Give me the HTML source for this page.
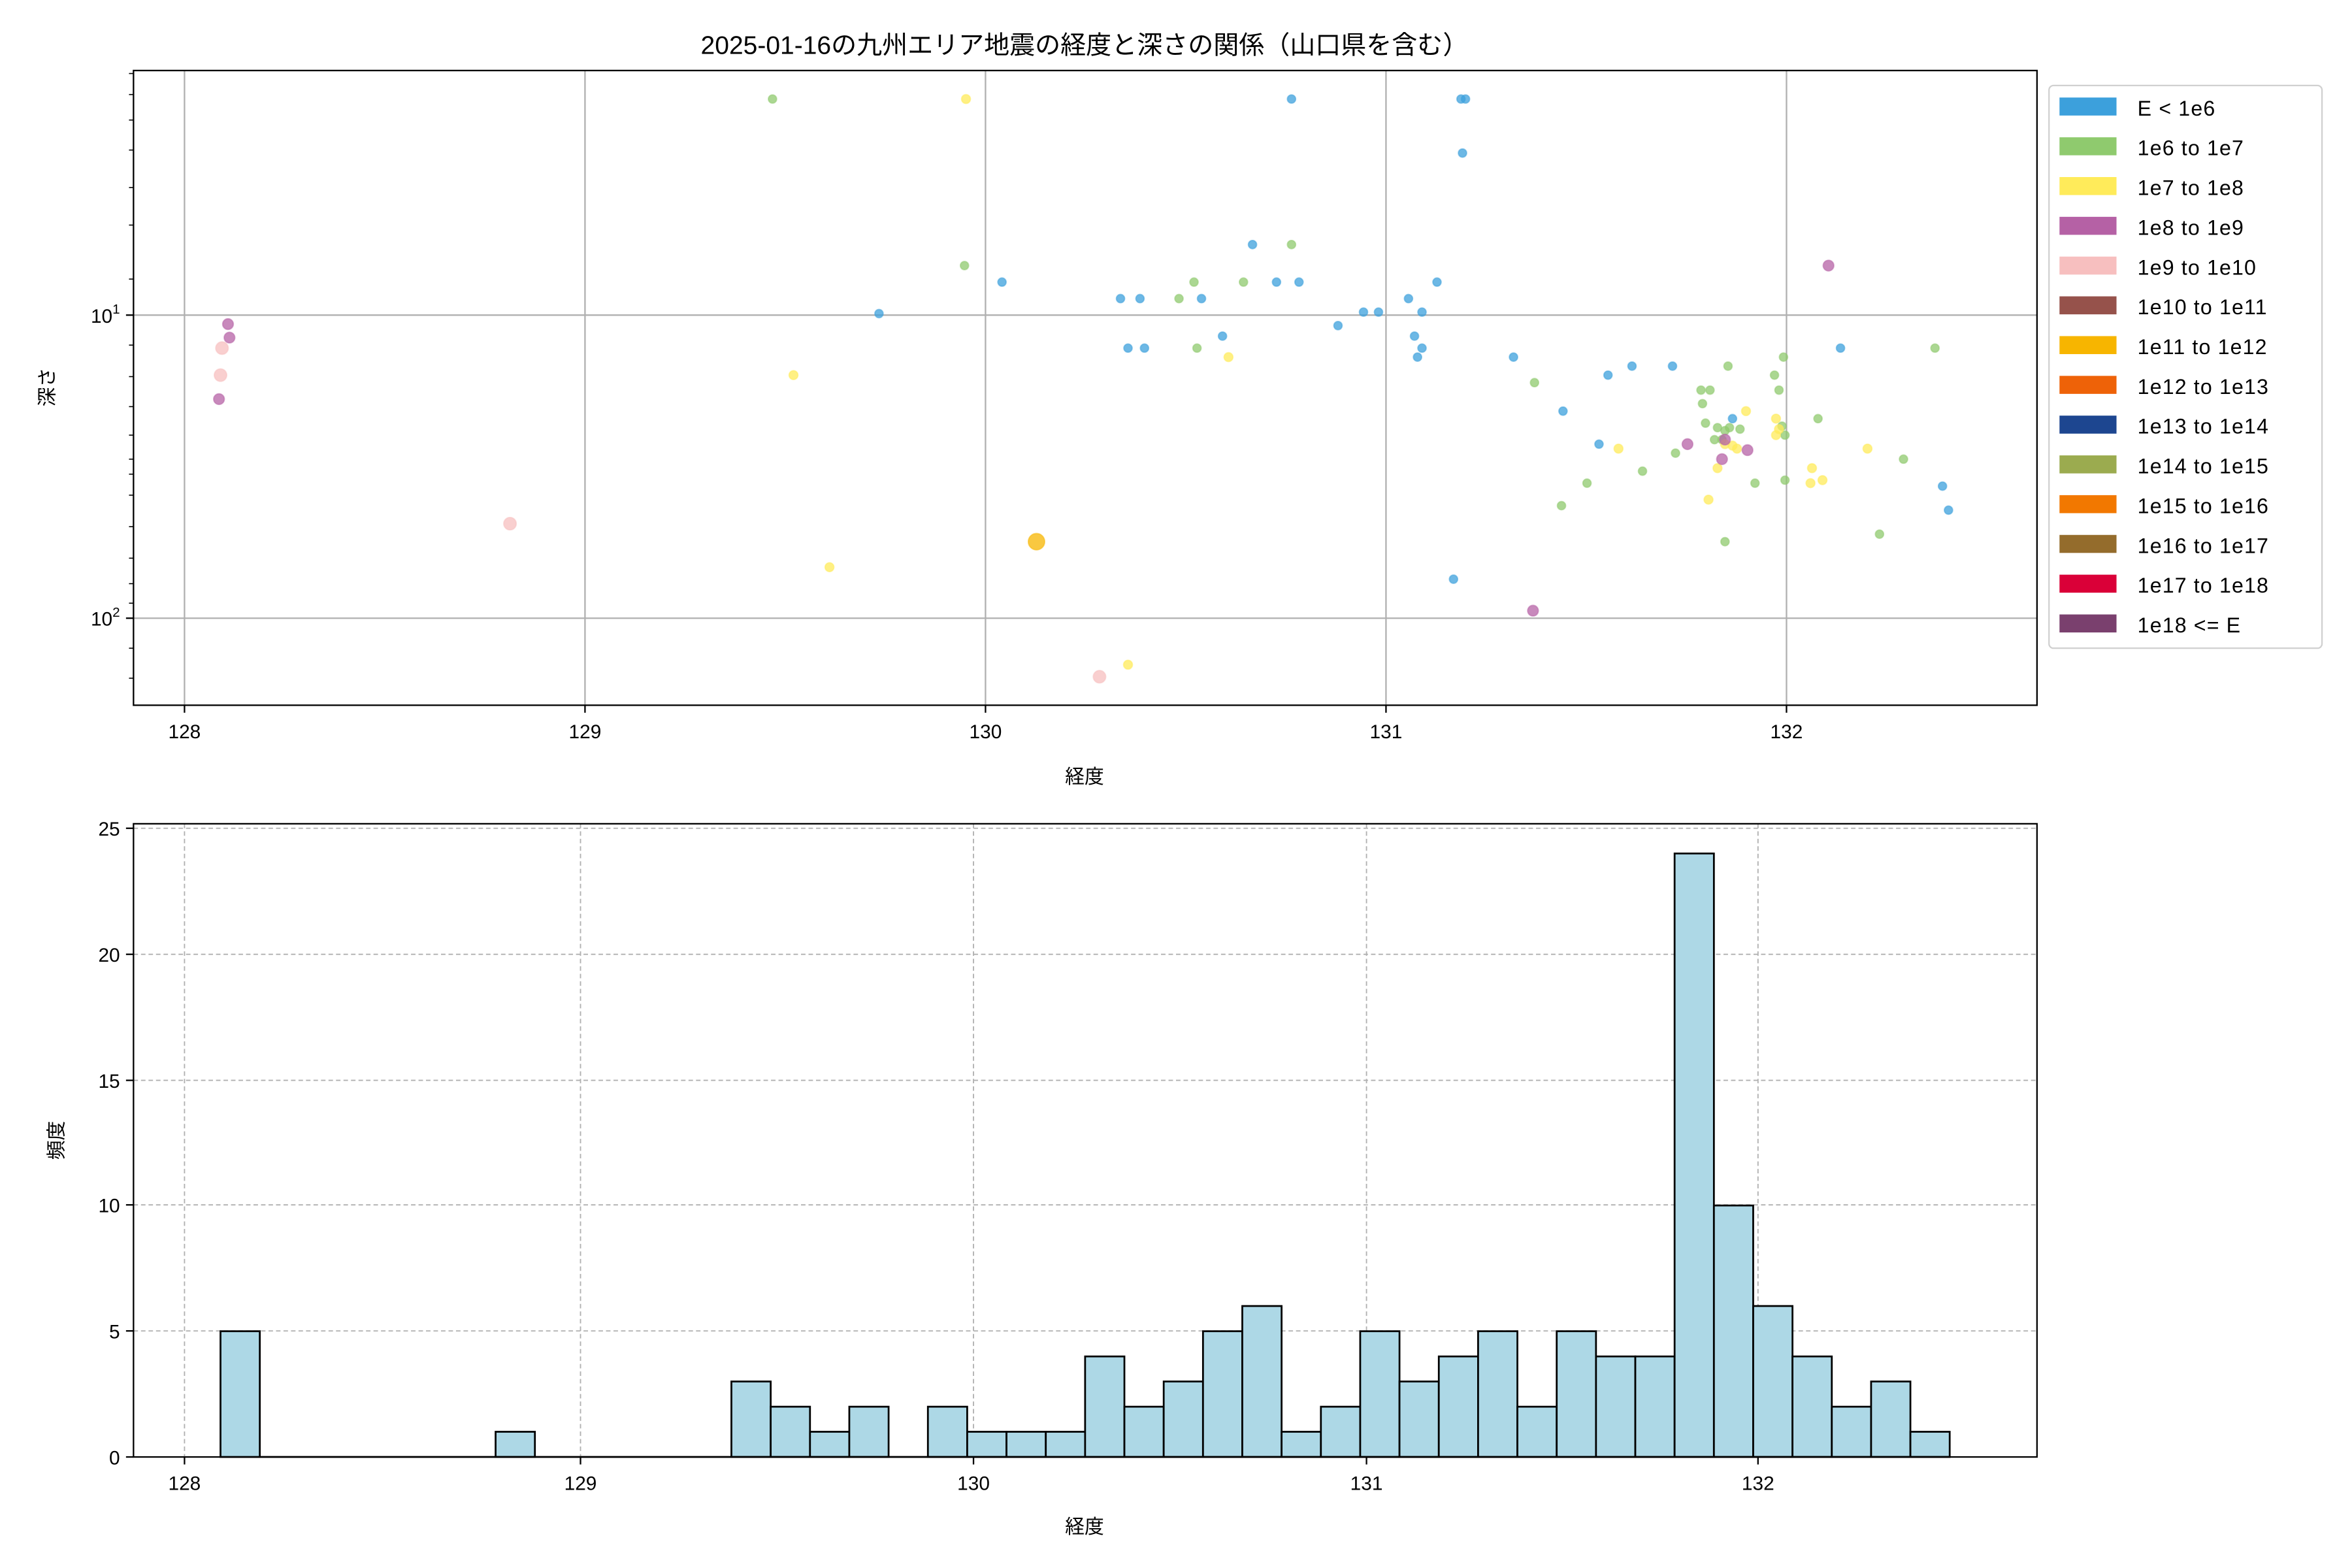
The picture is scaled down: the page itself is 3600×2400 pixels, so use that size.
<!DOCTYPE html>
<html><head><meta charset="utf-8"><style>
html,body{margin:0;padding:0;background:#fff}
svg{display:block}
text{font-family:"Liberation Sans","Noto Sans CJK JP",sans-serif;fill:#000}
</style></head><body>
<svg width="3600" height="2400" viewBox="0 0 1568 1045" preserveAspectRatio="none" xmlns="http://www.w3.org/2000/svg">
<rect width="1568" height="1045" fill="#fff"/>
<text x="723" y="36" font-size="17" text-anchor="middle">2025-01-16の九州エリア地震の経度と深さの関係（山口県を含む）</text>
<g stroke="#b0b0b0" stroke-width="1">
<line x1="123" y1="47" x2="123" y2="470"/><line x1="390" y1="47" x2="390" y2="470"/><line x1="657" y1="47" x2="657" y2="470"/><line x1="924" y1="47" x2="924" y2="470"/><line x1="1191" y1="47" x2="1191" y2="470"/>
<line x1="89" y1="210" x2="1358" y2="210"/><line x1="89" y1="412" x2="1358" y2="412"/>
</g>
<g fill-opacity="0.75" stroke-opacity="0.5" stroke-width="0.8">
<g fill="#3ca0dc" stroke="#3ca0dc">
<circle cx="586" cy="209" r="2.8"/><circle cx="668" cy="188" r="2.8"/><circle cx="747" cy="199" r="2.8"/><circle cx="760" cy="199" r="2.8"/><circle cx="752" cy="232" r="2.8"/><circle cx="763" cy="232" r="2.8"/><circle cx="801" cy="199" r="2.8"/><circle cx="815" cy="224" r="2.8"/><circle cx="835" cy="163" r="2.8"/><circle cx="851" cy="188" r="2.8"/><circle cx="866" cy="188" r="2.8"/><circle cx="861" cy="66" r="2.8"/><circle cx="892" cy="217" r="2.8"/><circle cx="909" cy="208" r="2.8"/><circle cx="919" cy="208" r="2.8"/><circle cx="939" cy="199" r="2.8"/><circle cx="943" cy="224" r="2.8"/><circle cx="948" cy="208" r="2.8"/><circle cx="945" cy="238" r="2.8"/><circle cx="948" cy="232" r="2.8"/><circle cx="958" cy="188" r="2.8"/><circle cx="974" cy="66" r="2.8"/><circle cx="977" cy="66" r="2.8"/><circle cx="975" cy="102" r="2.8"/><circle cx="969" cy="386" r="2.8"/><circle cx="1009" cy="238" r="2.8"/><circle cx="1042" cy="274" r="2.8"/><circle cx="1066" cy="296" r="2.8"/><circle cx="1072" cy="250" r="2.8"/><circle cx="1088" cy="244" r="2.8"/><circle cx="1115" cy="244" r="2.8"/><circle cx="1155" cy="279" r="2.8"/><circle cx="1227" cy="232" r="2.8"/><circle cx="1295" cy="324" r="2.8"/><circle cx="1299" cy="340" r="2.8"/>
</g>
<g fill="#8fca6e" stroke="#8fca6e">
<circle cx="515" cy="66" r="2.8"/><circle cx="643" cy="177" r="2.8"/><circle cx="786" cy="199" r="2.8"/><circle cx="796" cy="188" r="2.8"/><circle cx="798" cy="232" r="2.8"/><circle cx="829" cy="188" r="2.8"/><circle cx="861" cy="163" r="2.8"/><circle cx="1023" cy="255" r="2.8"/><circle cx="1041" cy="337" r="2.8"/><circle cx="1058" cy="322" r="2.8"/><circle cx="1095" cy="314" r="2.8"/><circle cx="1117" cy="302" r="2.8"/><circle cx="1134" cy="260" r="2.8"/><circle cx="1135" cy="269" r="2.8"/><circle cx="1140" cy="260" r="2.8"/><circle cx="1137" cy="282" r="2.8"/><circle cx="1143" cy="293" r="2.8"/><circle cx="1145" cy="285" r="2.8"/><circle cx="1148" cy="293" r="2.8"/><circle cx="1150" cy="287" r="2.8"/><circle cx="1152" cy="244" r="2.8"/><circle cx="1153" cy="285" r="2.8"/><circle cx="1160" cy="286" r="2.8"/><circle cx="1150" cy="361" r="2.8"/><circle cx="1170" cy="322" r="2.8"/><circle cx="1183" cy="250" r="2.8"/><circle cx="1186" cy="260" r="2.8"/><circle cx="1189" cy="238" r="2.8"/><circle cx="1188" cy="284" r="2.8"/><circle cx="1190" cy="290" r="2.8"/><circle cx="1190" cy="320" r="2.8"/><circle cx="1212" cy="279" r="2.8"/><circle cx="1253" cy="356" r="2.8"/><circle cx="1269" cy="306" r="2.8"/><circle cx="1290" cy="232" r="2.8"/>
</g>
<g fill="#ffeb5a" stroke="#ffeb5a">
<circle cx="644" cy="66" r="3"/><circle cx="529" cy="250" r="3"/><circle cx="553" cy="378" r="3"/><circle cx="752" cy="443" r="3"/><circle cx="819" cy="238" r="3"/><circle cx="1079" cy="299" r="3"/><circle cx="1139" cy="333" r="3"/><circle cx="1145" cy="312" r="3"/><circle cx="1150" cy="296" r="3"/><circle cx="1155" cy="297" r="3"/><circle cx="1158" cy="299" r="3"/><circle cx="1164" cy="274" r="3"/><circle cx="1184" cy="279" r="3"/><circle cx="1184" cy="290" r="3"/><circle cx="1186" cy="286" r="3"/><circle cx="1208" cy="312" r="3"/><circle cx="1207" cy="322" r="3"/><circle cx="1215" cy="320" r="3"/><circle cx="1245" cy="299" r="3"/>
</g>
<g fill="#b561a5" stroke="#b561a5">
<circle cx="152" cy="216" r="3.6"/><circle cx="153" cy="225" r="3.6"/><circle cx="146" cy="266" r="3.6"/><circle cx="1022" cy="407" r="3.6"/><circle cx="1125" cy="296" r="3.6"/><circle cx="1148" cy="306" r="3.6"/><circle cx="1150" cy="293" r="3.6"/><circle cx="1165" cy="300" r="3.6"/><circle cx="1219" cy="177" r="3.6"/>
</g>
<g fill="#f7bfbf" stroke="#f7bfbf">
<circle cx="148" cy="232" r="4.2"/><circle cx="147" cy="250" r="4.2"/><circle cx="340" cy="349" r="4.2"/><circle cx="733" cy="451" r="4.2"/>
</g>
<circle cx="691" cy="361" r="5.5" fill="#f7b500" stroke="#f7b500"/>
</g>
<rect x="89" y="47" width="1269" height="423" fill="none" stroke="#000" stroke-width="1"/>
<g stroke="#000" stroke-width="1">
<line x1="123" y1="470" x2="123" y2="475"/><line x1="390" y1="470" x2="390" y2="475"/><line x1="657" y1="470" x2="657" y2="475"/><line x1="924" y1="470" x2="924" y2="475"/><line x1="1191" y1="470" x2="1191" y2="475"/>
<line x1="84" y1="210" x2="89" y2="210"/><line x1="84" y1="412" x2="89" y2="412"/>
<g stroke-width="0.7">
<line x1="86" y1="49" x2="89" y2="49"/><line x1="86" y1="63" x2="89" y2="63"/><line x1="86" y1="80" x2="89" y2="80"/><line x1="86" y1="100" x2="89" y2="100"/><line x1="86" y1="125" x2="89" y2="125"/><line x1="86" y1="150" x2="89" y2="150"/><line x1="86" y1="186" x2="89" y2="186"/>
<line x1="86" y1="230" x2="89" y2="230"/><line x1="86" y1="251" x2="89" y2="251"/><line x1="86" y1="271" x2="89" y2="271"/><line x1="86" y1="290" x2="89" y2="290"/><line x1="86" y1="306" x2="89" y2="306"/><line x1="86" y1="316" x2="89" y2="316"/><line x1="86" y1="330" x2="89" y2="330"/><line x1="86" y1="351" x2="89" y2="351"/><line x1="86" y1="372" x2="89" y2="372"/><line x1="86" y1="389" x2="89" y2="389"/><line x1="86" y1="402" x2="89" y2="402"/><line x1="86" y1="432" x2="89" y2="432"/><line x1="86" y1="452" x2="89" y2="452"/>
</g></g>
<g font-size="13" text-anchor="middle">
<text x="123" y="492">128</text><text x="390" y="492">129</text><text x="657" y="492">130</text><text x="924" y="492">131</text><text x="1191" y="492">132</text>
<text x="723" y="522">経度</text>
</g>
<text x="80" y="215" font-size="13" text-anchor="end">10<tspan dy="-6" font-size="9">1</tspan></text>
<text x="80" y="417" font-size="13" text-anchor="end">10<tspan dy="-6" font-size="9">2</tspan></text>
<text transform="translate(36,258) rotate(-90)" font-size="13" text-anchor="middle">深さ</text>
<rect x="1366" y="57" width="182" height="375" rx="3" fill="#fff" stroke="#d0d0d0" stroke-width="1"/>
<g font-size="14" letter-spacing="0.5">
<rect x="1373" y="65" width="38" height="12" fill="#3ca0dc"/><text x="1425" y="77">E &lt; 1e6</text>
<rect x="1373" y="91.5" width="38" height="12" fill="#8fca6e"/><text x="1425" y="103.5">1e6 to 1e7</text>
<rect x="1373" y="118" width="38" height="12" fill="#ffeb5a"/><text x="1425" y="130">1e7 to 1e8</text>
<rect x="1373" y="144.5" width="38" height="12" fill="#b561a5"/><text x="1425" y="156.5">1e8 to 1e9</text>
<rect x="1373" y="171" width="38" height="12" fill="#f7bfbf"/><text x="1425" y="183">1e9 to 1e10</text>
<rect x="1373" y="197.5" width="38" height="12" fill="#96524b"/><text x="1425" y="209.5">1e10 to 1e11</text>
<rect x="1373" y="224" width="38" height="12" fill="#f7b500"/><text x="1425" y="236">1e11 to 1e12</text>
<rect x="1373" y="250.5" width="38" height="12" fill="#ee6208"/><text x="1425" y="262.5">1e12 to 1e13</text>
<rect x="1373" y="277" width="38" height="12" fill="#1d4690"/><text x="1425" y="289">1e13 to 1e14</text>
<rect x="1373" y="303.5" width="38" height="12" fill="#9bab4f"/><text x="1425" y="315.5">1e14 to 1e15</text>
<rect x="1373" y="330" width="38" height="12" fill="#f27800"/><text x="1425" y="342">1e15 to 1e16</text>
<rect x="1373" y="356.5" width="38" height="12" fill="#946c2c"/><text x="1425" y="368.5">1e16 to 1e17</text>
<rect x="1373" y="383" width="38" height="12" fill="#da0038"/><text x="1425" y="395">1e17 to 1e18</text>
<rect x="1373" y="409.5" width="38" height="12" fill="#7a406e"/><text x="1425" y="421.5">1e18 &lt;= E</text>
</g>
<g stroke="#b0b0b0" stroke-width="0.8" stroke-dasharray="3,2">
<line x1="123" y1="549" x2="123" y2="971"/><line x1="387" y1="549" x2="387" y2="971"/><line x1="649" y1="549" x2="649" y2="971"/><line x1="911" y1="549" x2="911" y2="971"/><line x1="1172" y1="549" x2="1172" y2="971"/>
<line x1="89" y1="887" x2="1358" y2="887"/><line x1="89" y1="803" x2="1358" y2="803"/><line x1="89" y1="720" x2="1358" y2="720"/><line x1="89" y1="636" x2="1358" y2="636"/><line x1="89" y1="552" x2="1358" y2="552"/>
</g>
<g fill="#add8e6" stroke="#000" stroke-width="1.2">
<rect x="147" y="887.2" width="26.2" height="83.8"/>
<rect x="330.4" y="954.2" width="26.2" height="16.8"/>
<rect x="487.6" y="920.7" width="26.2" height="50.3"/>
<rect x="513.8" y="937.5" width="26.2" height="33.5"/>
<rect x="540" y="954.2" width="26.2" height="16.8"/>
<rect x="566.2" y="937.5" width="26.2" height="33.5"/>
<rect x="618.6" y="937.5" width="26.2" height="33.5"/>
<rect x="644.8" y="954.2" width="26.2" height="16.8"/>
<rect x="671" y="954.2" width="26.2" height="16.8"/>
<rect x="697.2" y="954.2" width="26.2" height="16.8"/>
<rect x="723.4" y="904" width="26.2" height="67"/>
<rect x="749.6" y="937.5" width="26.2" height="33.5"/>
<rect x="775.8" y="920.7" width="26.2" height="50.3"/>
<rect x="802" y="887.2" width="26.2" height="83.8"/>
<rect x="828.2" y="870.4" width="26.2" height="100.6"/>
<rect x="854.4" y="954.2" width="26.2" height="16.8"/>
<rect x="880.6" y="937.5" width="26.2" height="33.5"/>
<rect x="906.8" y="887.2" width="26.2" height="83.8"/>
<rect x="933" y="920.7" width="26.2" height="50.3"/>
<rect x="959.2" y="904" width="26.2" height="67"/>
<rect x="985.4" y="887.2" width="26.2" height="83.8"/>
<rect x="1011.6" y="937.5" width="26.2" height="33.5"/>
<rect x="1037.8" y="887.2" width="26.2" height="83.8"/>
<rect x="1064" y="904" width="26.2" height="67"/>
<rect x="1090.2" y="904" width="26.2" height="67"/>
<rect x="1116.4" y="568.8" width="26.2" height="402.2"/>
<rect x="1142.6" y="803.4" width="26.2" height="167.6"/>
<rect x="1168.8" y="870.4" width="26.2" height="100.6"/>
<rect x="1195" y="904" width="26.2" height="67"/>
<rect x="1221.2" y="937.5" width="26.2" height="33.5"/>
<rect x="1247.4" y="920.7" width="26.2" height="50.3"/>
<rect x="1273.6" y="954.2" width="26.2" height="16.8"/>
</g>
<line x1="173.2" y1="971" x2="1300" y2="971" stroke="#000" stroke-width="1.2"/>
<rect x="89" y="549" width="1269" height="422" fill="none" stroke="#000" stroke-width="1"/>
<g stroke="#000" stroke-width="1">
<line x1="123" y1="971" x2="123" y2="976"/><line x1="387" y1="971" x2="387" y2="976"/><line x1="649" y1="971" x2="649" y2="976"/><line x1="911" y1="971" x2="911" y2="976"/><line x1="1172" y1="971" x2="1172" y2="976"/>
<line x1="84" y1="971" x2="89" y2="971"/><line x1="84" y1="887" x2="89" y2="887"/><line x1="84" y1="803" x2="89" y2="803"/><line x1="84" y1="720" x2="89" y2="720"/><line x1="84" y1="636" x2="89" y2="636"/><line x1="84" y1="552" x2="89" y2="552"/>
</g>
<g font-size="13" text-anchor="middle">
<text x="123" y="993">128</text><text x="387" y="993">129</text><text x="649" y="993">130</text><text x="911" y="993">131</text><text x="1172" y="993">132</text>
<text x="723" y="1022">経度</text>
</g>
<g font-size="13" text-anchor="end">
<text x="80" y="976">0</text><text x="80" y="892">5</text><text x="80" y="808">10</text><text x="80" y="725">15</text><text x="80" y="641">20</text><text x="80" y="557">25</text>
</g>
<text transform="translate(42,760) rotate(-90)" font-size="13" text-anchor="middle">頻度</text>
</svg>
</body></html>
